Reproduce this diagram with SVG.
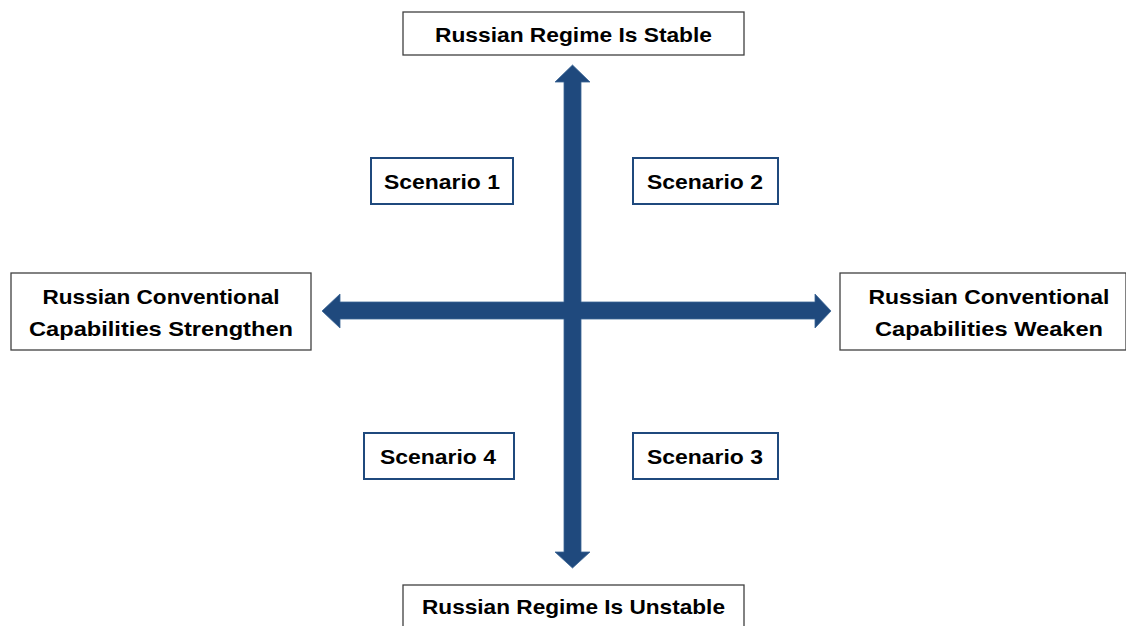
<svg xmlns="http://www.w3.org/2000/svg" width="1126" height="626" viewBox="0 0 1126 626">
<style>
.axis{fill:#fff;stroke:#404040;stroke-width:1.3}
.scen{fill:#fff;stroke:#1F497D;stroke-width:2}
.t{font-family:"Liberation Sans",Arial,sans-serif;font-weight:bold;font-size:21px;fill:#000;text-anchor:middle}
.arr{fill:#1F497D;stroke:#3A6494;stroke-width:0.8}
</style>
<rect width="1126" height="626" fill="#fff"/>
<g id="connectors">
<polygon class="arr" points="572.5,65 590,82 581,82 581,302 815,302 815,294 831,311 815,328 815,319 581,319 581,552 590,552 572.5,568 555,552 564,552 564,319 340,319 340,328 322,311 340,294 340,302 564,302 564,82 555,82"/>
</g>
<g id="top">
<rect class="axis" x="403" y="12" width="341" height="43"/>
<text class="t" x="573.5" y="42" textLength="277" lengthAdjust="spacingAndGlyphs">Russian Regime Is Stable</text>
</g>
<g id="bottom">
<rect class="axis" x="403" y="585" width="341" height="50"/>
<text class="t" x="573.5" y="614" textLength="303" lengthAdjust="spacingAndGlyphs">Russian Regime Is Unstable</text>
</g>
<g id="left">
<rect class="axis" x="11" y="273" width="300" height="77"/>
<text class="t" x="161" y="304" textLength="237" lengthAdjust="spacingAndGlyphs">Russian Conventional</text>
<text class="t" x="161" y="336" textLength="264" lengthAdjust="spacingAndGlyphs">Capabilities Strengthen</text>
</g>
<g id="right">
<rect class="axis" x="840" y="273" width="286" height="77"/>
<text class="t" x="989" y="304" textLength="241" lengthAdjust="spacingAndGlyphs">Russian Conventional</text>
<text class="t" x="989" y="336" textLength="228" lengthAdjust="spacingAndGlyphs">Capabilities Weaken</text>
</g>
<g id="scenario1">
<rect class="scen" x="371" y="158" width="142" height="46"/>
<text class="t" x="442" y="189" textLength="116" lengthAdjust="spacingAndGlyphs">Scenario 1</text>
</g>
<g id="scenario2">
<rect class="scen" x="633" y="158" width="145" height="46"/>
<text class="t" x="705" y="189" textLength="116" lengthAdjust="spacingAndGlyphs">Scenario 2</text>
</g>
<g id="scenario4">
<rect class="scen" x="364" y="433" width="150" height="46"/>
<text class="t" x="438" y="464" textLength="116" lengthAdjust="spacingAndGlyphs">Scenario 4</text>
</g>
<g id="scenario3">
<rect class="scen" x="633" y="433" width="145" height="46"/>
<text class="t" x="705" y="464" textLength="116" lengthAdjust="spacingAndGlyphs">Scenario 3</text>
</g>
</svg>
